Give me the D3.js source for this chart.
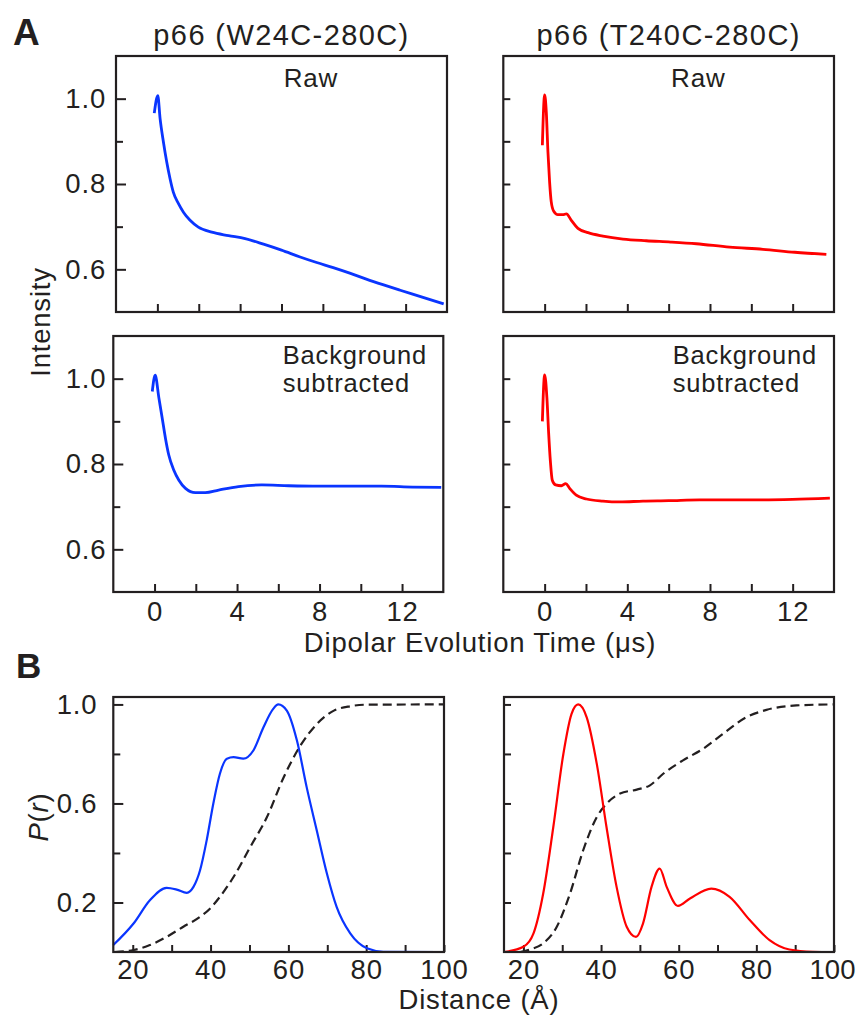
<!DOCTYPE html>
<html>
<head>
<meta charset="utf-8">
<script src="https://cdn.jsdelivr.net/npm/d3@7"></script>
<style>
  body { margin: 0; background: #fff; }
  svg text { font-family: "Liberation Sans", Arial, Helvetica, sans-serif; fill: #231f20; letter-spacing: 0.8px; }
</style>
</head>
<body>
<svg id="fig"></svg>
<script>
// ---- data ----
// dipolar evolution time (us) vs intensity
const w24Raw = [[-0.15,0.966],[0.02,1.007],[0.13,0.954],[0.29,0.899],[0.45,0.852],[0.61,0.813],[0.77,0.781],[1.02,0.754],[1.26,0.734],[1.58,0.715],[1.98,0.699],[2.63,0.687],[3.44,0.679],[4.24,0.672],[5.13,0.659],[6.0,0.645],[6.9,0.629],[7.7,0.616],[8.5,0.604],[9.3,0.591],[10.1,0.577],[10.9,0.564],[11.74,0.551],[12.8,0.535],[13.84,0.519]];
const t240Raw = [[-0.11,0.891],[0.0,1.009],[0.08,0.969],[0.16,0.875],[0.24,0.805],[0.32,0.758],[0.44,0.736],[0.64,0.728],[0.89,0.728],[1.05,0.73],[1.29,0.715],[1.61,0.696],[2.1,0.686],[2.82,0.678],[3.79,0.671],[4.92,0.667],[6.1,0.664],[7.34,0.66],[8.95,0.652],[10.56,0.647],[12.1,0.64],[13.63,0.635]];
const w24Bg = [[-0.11,0.97],[0.03,1.008],[0.21,0.955],[0.37,0.908],[0.53,0.86],[0.69,0.821],[0.93,0.786],[1.18,0.762],[1.5,0.743],[1.98,0.733],[2.46,0.733],[3.11,0.739],[4.07,0.747],[5.2,0.751],[6.5,0.749],[8,0.748],[9.5,0.748],[11,0.748],[12.5,0.746],[13.9,0.745]];
const t240Bg = [[-0.11,0.9],[0.0,1.009],[0.11,0.955],[0.19,0.876],[0.28,0.805],[0.37,0.762],[0.53,0.751],[0.81,0.749],[1.02,0.754],[1.21,0.743],[1.53,0.727],[2.02,0.718],[2.82,0.713],[3.63,0.711],[4.76,0.713],[6,0.714],[7.5,0.716],[9,0.716],[10.5,0.716],[12,0.717],[13.8,0.72]];

// distance (A) vs P(r), and its cumulative (dashed)
const w24Pr = [[15,0.028],[20.2,0.115],[24.4,0.209],[28.7,0.259],[31.3,0.252],[33.9,0.239],[35.6,0.263],[37.3,0.33],[39,0.451],[40.7,0.599],[42.4,0.72],[44.2,0.781],[45.9,0.787],[48.4,0.781],[51,0.814],[53.6,0.908],[56.1,0.982],[57.4,1.0],[59.6,0.975],[62.2,0.854],[64.7,0.666],[67.3,0.491],[69.9,0.317],[72.4,0.182],[75.9,0.075],[80.2,0.015],[84.4,0.001],[100,0]];
const w24Cum = [[15.4,0],[20.2,0.008],[24.4,0.028],[28.7,0.061],[33,0.102],[37.3,0.142],[39.9,0.176],[42.4,0.223],[45.9,0.303],[50.2,0.424],[54.5,0.545],[58.8,0.706],[63.1,0.834],[67.4,0.922],[71.7,0.975],[76,0.993],[80.2,0.999],[100,1.0]];
const t240Pr = [[15,0],[20,0.021],[22.6,0.075],[25.1,0.236],[27.7,0.505],[30.3,0.801],[32.4,0.962],[34.1,1.0],[36.3,0.948],[38.9,0.76],[41.4,0.505],[44,0.263],[46.6,0.102],[49,0.061],[50.8,0.115],[53,0.263],[55.1,0.337],[56.9,0.263],[59.8,0.186],[62.9,0.216],[68.4,0.256],[73.1,0.223],[78.3,0.129],[83.4,0.048],[88.5,0.01],[94.5,0.001],[100,0]];
const t240Cum = [[19.2,0],[21.7,0.01],[25.1,0.035],[28.6,0.102],[32,0.236],[35.4,0.411],[38.9,0.545],[41.4,0.599],[44.9,0.64],[49.2,0.656],[52.6,0.673],[56,0.72],[61.1,0.774],[66.3,0.821],[71.4,0.881],[77.4,0.948],[82.6,0.978],[90.3,0.996],[99.7,1.0]];

// ticks
const timeTicks = [0, 2, 4, 6, 8, 10, 12];
const timeLabels = [0, 4, 8, 12];
const intensityTicks = [0.6, 0.7, 0.8, 0.9, 1.0];
const intensityLabels = [0.6, 0.8, 1.0];
const distTicks = [20, 30, 40, 50, 60, 70, 80, 90, 100];
const distLabels = [20, 40, 60, 80, 100];
const prTicks = [0.2, 0.4, 0.6, 0.8, 1.0];
const prLabels = [0.2, 0.6, 1.0];

const titles = ['p66 (W24C-280C)', 'p66 (T240C-280C)'];
const BLUE = '#0a35ff', RED = '#ff0000', INK = '#231f20';

const svg = d3.select('#fig').attr('width', 857).attr('height', 1017);

class framePanel {
    constructor(_config) {
        this.config = _config;
        this.initPanel();
    }
    initPanel() {
        let p = this, c = p.config;
        p.xScale = d3.scaleLinear().domain(c.xDomain).range([0, c.width]);
        p.yScale = d3.scaleLinear().domain(c.yDomain).range([c.height, 0]);
        p.g = svg.append('g').attr('transform', `translate(${c.left},${c.top})`);

        let xAxis = d3.axisBottom(p.xScale).tickValues(c.xTicks)
            .tickSizeInner(-8).tickSizeOuter(0).tickPadding(c.xPad || 9)
            .tickFormat(d => c.xLabels && c.xLabels.includes(d) ? d3.format('d')(d) : '');
        let yAxis = d3.axisLeft(p.yScale).tickValues(c.yTicks)
            .tickSizeInner(-8).tickSizeOuter(0).tickPadding(c.yPad || 10)
            .tickFormat(d => c.yLabels && c.yLabels.includes(d) ? d3.format('.1f')(d) : '');

        p.xg = p.g.append('g').attr('transform', `translate(0,${c.height})`).call(xAxis);
        p.yg = p.g.append('g').call(yAxis);
        [p.xg, p.yg].forEach(a => {
            a.select('.domain').remove();
            a.selectAll('.tick line').attr('stroke', INK).attr('stroke-width', 2);
            a.selectAll('text').attr('font-size', 27.5).attr('fill', INK).attr('font-family', null);
        });
        p.yg.selectAll('.tick line').attr('x2', d => c.yLabels && c.yLabels.includes(d) ? 10 : 7);
        if (c.xMinorShort) p.xg.selectAll('.tick line').attr('y2', -7);
    }
    addLine(data, color, width, dash) {
        let p = this;
        let line = d3.line().x(d => p.xScale(d[0])).y(d => p.yScale(d[1])).curve(d3.curveMonotoneX);
        p.g.append('path').datum(data)
            .attr('fill', 'none').attr('stroke', color).attr('stroke-width', width)
            .attr('stroke-dasharray', dash || null)
            .attr('stroke-linejoin', 'round')
            .attr('d', line);
    }
    addFrame() {
        let c = this.config;
        this.g.append('rect').attr('width', c.width).attr('height', c.height)
            .attr('fill', 'none').attr('stroke', INK).attr('stroke-width', 2.2);
    }
}

// panel A, raw
const aTop = [
    { left: 116, top: 56, width: 331, height: 256, yLabels: intensityLabels, data: w24Raw, color: BLUE },
    { left: 503.3, top: 56, width: 330.7, height: 256, yLabels: null, data: t240Raw, color: RED }
];
aTop.forEach(d => {
    let p = new framePanel({
        left: d.left, top: d.top, width: d.width, height: d.height,
        xDomain: [-2, 14], yDomain: [0.5, 1.1],
        xTicks: timeTicks, xLabels: null, yTicks: intensityTicks, yLabels: d.yLabels, yPad: 10
    });
    p.addLine(d.data, d.color, 2.8);
    p.addFrame();
    p.g.append('text').attr('x', 195).attr('y', 31).attr('font-size', 26)
        .attr('text-anchor', 'middle').text('Raw');
});

// panel A, background subtracted
const aBottom = [
    { left: 113.3, top: 336, width: 330, height: 256, yLabels: intensityLabels, data: w24Bg, color: BLUE },
    { left: 503.3, top: 336, width: 330.7, height: 256, yLabels: null, data: t240Bg, color: RED }
];
aBottom.forEach(d => {
    let p = new framePanel({
        left: d.left, top: d.top, width: d.width, height: d.height,
        xDomain: [-2, 14], yDomain: [0.5, 1.1],
        xTicks: timeTicks, xLabels: timeLabels, yTicks: intensityTicks, yLabels: d.yLabels,
        xPad: 9, yPad: 7
    });
    p.addLine(d.data, d.color, 2.8);
    p.addFrame();
    p.g.append('text').attr('x', 169.5).attr('y', 27.5).attr('font-size', 25.5).text('Background');
    p.g.append('text').attr('x', 169.5).attr('y', 56).attr('font-size', 25.5).text('subtracted');
});

// panel B
const bPanels = [
    { left: 113.3, top: 697, width: 330.7, height: 255, yLabels: prLabels, pr: w24Pr, cum: w24Cum, color: BLUE },
    { left: 504, top: 697, width: 330, height: 255, yLabels: null, pr: t240Pr, cum: t240Cum, color: RED }
];
bPanels.forEach((d, i) => {
    let p = new framePanel({
        left: d.left, top: d.top, width: d.width, height: d.height,
        xDomain: [15, 100], yDomain: [0, 1.03],
        xTicks: distTicks, xLabels: distLabels, yTicks: prTicks, yLabels: d.yLabels,
        xPad: 7, yPad: 16, xMinorShort: true
    });
    p.addLine(d.cum, INK, 2.2, '9,5');
    p.addLine(d.pr, d.color, 2.2);
    p.addFrame();
    // keep the last label inside the page
    if (i === 1) p.xg.selectAll('.tick text').filter(v => v === 100)
        .style('letter-spacing', '0px').attr('dx', -2);
});

// titles and labels
svg.append('text').attr('x', 13).attr('y', 45).attr('font-size', 37).attr('font-weight', 'bold').style('letter-spacing', '0px').text('A');
svg.append('text').attr('x', 16).attr('y', 678).attr('font-size', 35).attr('font-weight', 'bold').style('letter-spacing', '0px').text('B');
[281.5, 668.7].forEach((x, i) => {
    svg.append('text').attr('x', x).attr('y', 45).attr('font-size', 29)
        .style('letter-spacing', '1.4px')
        .attr('text-anchor', 'middle').text(titles[i]);
});
svg.append('text').attr('transform', 'translate(50,322) rotate(-90)')
    .attr('font-size', 27.5).attr('text-anchor', 'middle').text('Intensity');
svg.append('text').attr('transform', 'translate(48,817) rotate(-90)')
    .attr('font-size', 27.5).attr('text-anchor', 'middle')
    .html('<tspan font-style="italic">P</tspan>(<tspan font-style="italic">r</tspan>)');
svg.append('text').attr('x', 480).attr('y', 652).attr('font-size', 27.5)
    .attr('text-anchor', 'middle').text('Dipolar Evolution Time (μs)');
svg.append('text').attr('x', 479).attr('y', 1009).attr('font-size', 27.5)
    .attr('text-anchor', 'middle').text('Distance (Å)');
</script>
</body>
</html>
